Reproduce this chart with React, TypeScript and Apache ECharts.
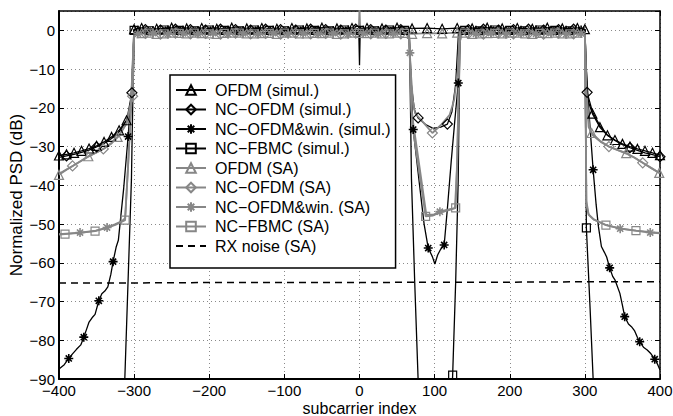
import React, { useEffect, useRef } from 'react';
import * as echarts from 'echarts';

// ---------- data (subcarrier index, normalized PSD in dB) ----------
const xTickValues = [-400, -300, -200, -100, 0, 100, 200, 300, 400];
const yTickValues = [-90, -80, -70, -60, -50, -40, -30, -20, -10, 0];

// in-band sample grids
const bandXA = [-290,-270,-250,-230,-210,-190,-170,-150,-130,-110,-90,-70,-50,-30,-10,10,30,50,70,90,110,130,150,170,190,210,230,250,270,290];
const bandXB1 = [-285,-265,-245,-225,-205,-185,-165,-145,-125,-105,-85,-65,-45,-25,-5,15,35,55];
const bandXB2 = [145,165,185,205,225,245,265,285];
const bandXC1 = [-295,-275,-255,-235,-215,-195,-175,-155,-135,-115,-95,-75,-55,-35,-15,5,25,45];
const bandXC2 = [155,175,195,215,235,255,275,295];
const bandXD1 = [-280,-260,-240,-220,-200,-180,-160,-140,-120,-100,-80,-60,-40,-20,0,20,40,60];
const bandXD2 = [140,160,180,200,220,240,260,280];

// OFDM (simul.)
const ofdmSimBand = [0.6,0.4,0.7,0.5,0.6,0.4,0.7,0.5,0.6,0.4,0.6,0.5,0.7,0.5,0.6,0.6,0.5,0.7,0.5,0.6,0.4,0.6,0.5,0.7,0.5,0.6,0.4,0.7,0.5,0.6];
const ofdmSimEdges: [number, number][] = [
  [-400,-32.3],[-390,-32.0],[-380,-31.6],[-370,-31.1],[-360,-30.5],[-350,-29.8],[-340,-28.8],[-330,-27.5],[-320,-25.8],[-310,-23.2],[-304,-20.5],[-301,-12],[-300,0.3],
  [-1,0.4],[0,-9],[1,0.4],
  [300,0.3],[301,-12],[304,-18],[310,-21.5],[320,-25],[330,-27.1],[340,-28.3],[350,-29.3],[360,-30],[370,-30.6],[380,-31.1],[390,-31.6],[400,-32.2],
];
const ofdmSimMarks = [-400,-390,-380,-370,-360,-350,-340,-330,-320,-310,-300,300,310,320,330,340,350,360,370,380,390,400];

// NC-OFDM (simul.)
const ncSimBand1 = [0.2,0.1,0.3,0.2,0.1,0.3,0.2,0.1,0.3,0.2,0.1,0.3,0.2,0.1,0.3,0.2,0.1,0.2];
const ncSimBand2 = [0.2,0.3,0.1,0.2,0.3,0.1,0.2,0.3];
const ncSimEdges: [number, number][] = [
  [-400,-32.8],[-390,-32.4],[-380,-32],[-370,-31.5],[-360,-30.9],[-350,-30.1],[-340,-29.2],[-330,-27.9],[-320,-26.2],[-310,-23.5],[-303,-16.1],[-300,0.2],
  [66,0.2],[69,-14],[73,-20.5],[78,-22.6],[88,-24.3],[98,-25.3],[108,-25],[117,-24.2],[123,-21],[128,-14],[132,0.2],
  [300,0.2],[303,-16],[310,-21],[320,-24.6],[330,-27],[340,-28.4],[350,-29.5],[360,-30.3],[370,-31],[380,-31.6],[390,-32.1],[400,-32.6],
];
const ncSimMarks = [-390,-350,-303,78,117,303,360,400];

// NC-OFDM&win. (simul.)
const winSimBand1 = [0,-0.1,0.1,0,-0.1,0.1,0,-0.1,0.1,0,-0.1,0.1,0,-0.1,0.1,0,-0.1,0];
const winSimBand2 = [0,0.1,-0.1,0,0.1,-0.1,0,0.1];
const winSimEdges: [number, number][] = [
  [-400,-87.4],[-393,-86.3],[-387,-84.7],[-382,-83.5],[-377,-82.4],[-371,-81.2],[-367,-79.2],[-363,-77],[-360,-75.3],[-356,-74.2],[-352,-73.3],[-347,-69.8],[-343,-68],[-339,-67.3],[-335,-66.2],[-331,-63],[-328,-59.7],[-324,-56],[-321,-54.2],[-314,-41],[-308,-27.4],[-304,-17],[-302,-9],[-300,0],
  [60,0],[66,-1],[68,-12],[71.5,-25.6],[80,-40],[86,-50],[91.5,-56.2],[97,-58.4],[100.3,-60.3],[104,-58],[108,-56.5],[112.7,-55.4],[117,-46],[122,-34],[127,-23],[131.5,-13.6],[134,-1],[140,0],
  [300,0],[302,-10],[305,-20],[311,-36],[315,-45],[318,-50.6],[322,-55.8],[326,-57.3],[329,-58.5],[333,-61.3],[337,-63.5],[340,-64.4],[346.6,-67.9],[350,-71],[353,-73.9],[358,-75.8],[362,-76.5],[366,-77.5],[370,-79.3],[373,-80.4],[378,-81.8],[383,-82.5],[388,-83.5],[393,-84.9],[397,-86.3],[400,-87.7],
];
const winSimMarks = [-387,-367,-347,-328,-308,71.5,91.5,112.7,131.5,311,333,353,373,393];

// NC-FBMC (simul.)
const fbmcSimBand1 = [-0.1,0.1,0,-0.1,0.1,0,-0.1,0.1,0,-0.1,0.1,0,-0.1,0.1,0,-0.1,0.1,0];
const fbmcSimBand2 = [0,-0.1,0.1,0,-0.1,0.1,0,-0.1];
const fbmcSimEdges: [number, number][] = [
  [-313,-93.5],[-308,-64.3],[-303.6,-38.6],[-301.5,-15],[-300,0],
  [66,0],[67.5,-15],[69.2,-38.6],[73.5,-65],[78,-90],[80,-96],[122.5,-96],[124,-89],[128,-65],[131.4,-38.6],[133,-12],[134,0],
  [300,0],[302,-51],[307,-72],[311,-90],[313,-96],
];
const fbmcSimMarks = [-300,124,302];

// OFDM (SA)
const ofdmSaBand = [-0.7,-0.9,-0.6,-0.8,-0.7,-0.9,-0.6,-0.8,-0.7,-0.9,-0.6,-0.8,-0.7,-0.9,-0.6,-0.7,-0.8,-0.6,-0.9,-0.7,-0.8,-0.6,-0.9,-0.7,-0.8,-0.6,-0.9,-0.7,-0.8,-0.6];
const ofdmSaEdges: [number, number][] = [
  [-400,-37.3],[-390,-36],[-380,-34.8],[-370,-33.6],[-361,-32.5],[-350,-31.5],[-340,-30.5],[-330,-29],[-322,-27.5],[-310,-24],[-303,-17.5],[-300,-0.5],
  [-1,-0.7],[0,6],[1,-0.7],
  [300,-0.5],[302,-16],[305,-25],[309,-26.5],[320,-28.5],[332,-30],[344,-30.9],[355,-31.7],[366,-32.8],[377,-34.2],[388,-35.5],[399,-36.8],
];
const ofdmSaMarks = [-400,-361,-322,309,355,399];

// NC-OFDM (SA)
const ncSaBand1 = [-0.8,-1,-0.7,-0.9,-0.8,-1,-0.7,-0.9,-0.8,-1,-0.7,-0.9,-0.8,-1,-0.7,-0.9,-0.8,-0.9];
const ncSaBand2 = [-0.8,-1,-0.7,-0.9,-0.8,-1,-0.7,-0.9];
const ncSaEdges: [number, number][] = [
  [-400,-37],[-382,-35],[-361,-32.6],[-341,-30.6],[-330,-29.2],[-320,-27.2],[-310,-24],[-302,-17],[-300,-0.5],
  [66,-0.7],[68,-10],[71,-18],[74,-21.4],[86,-24],[97,-26.5],[108,-24.5],[120,-21.8],[126,-18],[131,-10],[133,-0.7],
  [300,-0.5],[302,-16],[306,-25],[310,-27],[321,-28.8],[332,-30],[344,-30.9],[355,-31.8],[366,-32.9],[377,-34.2],[388,-35.5],[400,-36.9],
];
const ncSaMarks = [-382,-341,-302,97,332,377];

// NC-OFDM&win. (SA)
const winSaBand1 = [-0.9,-0.7,-1,-0.8,-0.9,-0.7,-1,-0.8,-0.9,-0.7,-1,-0.8,-0.9,-0.7,-1,-0.8,-0.9,-0.8];
const winSaBand2 = [-0.9,-0.7,-1,-0.8,-0.9,-0.7,-1,-0.8];
const winSaEdges: [number, number][] = [
  [-400,-52.6],[-386,-52.4],[-372,-52.2],[-351,-51.7],[-336,-50.9],[-325,-50],[-316,-49.2],[-312,-48.5],[-308,-35],[-304,-18],[-301,-4],[-300,-0.5],
  [62,-0.8],[66,-2],[67,-5.8],[69,-20.5],[79,-34],[89,-47.6],[98,-47.6],[107,-46.8],[117,-46.3],[127,-45.9],[130,-35],[132,-15],[133.5,-3],[136,-0.8],
  [300,-0.5],[301,-20],[302,-44],[305,-47.5],[312,-48.8],[320,-49.5],[329,-50.3],[347,-51.2],[367,-51.7],[387,-52.2],[400,-52.4],
];
const winSaMarks = [-372,-336,67,107,347,387];

// NC-FBMC (SA)
const fbmcSaBand1 = [-0.7,-0.9,-0.8,-0.7,-0.9,-0.8,-0.7,-0.9,-0.8,-0.7,-0.9,-0.8,-0.7,-0.9,-0.8,-0.7,-0.9,-0.8];
const fbmcSaBand2 = [-0.7,-0.9,-0.8,-0.7,-0.9,-0.8,-0.7,-0.9];
const fbmcSaEdges: [number, number][] = [
  [-400,-52.7],[-392,-52.6],[-372,-52.3],[-352,-51.8],[-336,-51],[-325,-50.2],[-312,-49],[-303.6,-18.8],[-301,-4],[-300,-0.6],
  [62,-0.8],[66,-2],[68,-12],[70,-24],[79,-36],[88,-48],[98,-47.8],[108,-47],[118,-46.5],[128,-45.8],[130,-33],[132,-14],[133.5,-3],[136,-0.8],
  [300,-0.5],[301,-22],[302,-45],[305,-47.6],[312,-48.9],[320,-49.6],[328,-50.3],[348,-51.2],[368,-51.7],[388,-52.1],[400,-52.3],
];
const fbmcSaMarks = [-392,-352,-312,88,128,328,368];

// RX noise (SA)
const noiseEdges: [number, number][] = [
  [-400,-65.2],[-300,-65.2],[-200,-65.1],[-100,-65.1],[0,-65.1],[100,-65],[200,-65],[300,-64.9],[400,-64.9],
];

// ---------- helpers ----------
const FONT = 'Arial, "Liberation Sans", Helvetica, sans-serif';
const BLACK = '#000000';
const GRAY = '#878787';
const ASTERISK = 'path://M5 0L5 10M0 5L10 5M1.6 1.6L8.4 8.4M1.6 8.4L8.4 1.6';
const CLEAR = 'rgba(255,255,255,0)';

type Band = [number[], number[]];

function build(bands: Band[], edges: [number, number][], marks: number[]) {
  const pts: { x: number; y: number; m: boolean }[] = [];
  bands.forEach(([xs, ys]) => xs.forEach((x, i) => pts.push({ x, y: ys[i], m: true })));
  edges.forEach(([x, y]) => pts.push({ x, y, m: marks.includes(x) }));
  pts.sort((a, b) => a.x - b.x);
  return pts.map((p) => (p.m ? { value: [p.x, p.y] } : { value: [p.x, p.y], symbol: 'none' }));
}

const minus = (v: number) => (v % 10 === 0 ? String(v).replace('-', '\u2212') : '');

function mkSeries(name: string, data: any[], color: string, symbol: string, size: number, width: number, dashed = false) {
  const hasSym = symbol !== 'none';
  const isStar = symbol === ASTERISK;
  return {
    type: 'line',
    name,
    data,
    symbol,
    symbolSize: size,
    showSymbol: hasSym,
    showAllSymbol: true,
    clip: true,
    lineStyle: { color, width, type: dashed ? [7, 5] : 'solid' },
    itemStyle: hasSym
      ? { color: CLEAR, borderColor: color, borderWidth: isStar ? 1.6 : 1.2 }
      : { color: CLEAR, borderColor: CLEAR, borderWidth: 0, opacity: 0 },
    emphasis: { disabled: true },
  };
}

export default function App() {
  const ref = useRef<HTMLDivElement>(null);
  useEffect(() => {
    if (!ref.current) return;
    const chart = echarts.init(ref.current, undefined, { renderer: 'svg' });
    const series = [
      mkSeries('OFDM (simul.)', build([[bandXA, ofdmSimBand]], ofdmSimEdges, ofdmSimMarks), BLACK, 'triangle', 9, 1.3),
      mkSeries('NC\u2212OFDM (simul.)', build([[bandXB1, ncSimBand1], [bandXB2, ncSimBand2]], ncSimEdges, ncSimMarks), BLACK, 'diamond', 10, 1.3),
      mkSeries('NC\u2212OFDM&win. (simul.)', build([[bandXC1, winSimBand1], [bandXC2, winSimBand2]], winSimEdges, winSimMarks), BLACK, ASTERISK, 9, 1.3),
      mkSeries('NC\u2212FBMC (simul.)', build([[bandXD1, fbmcSimBand1], [bandXD2, fbmcSimBand2]], fbmcSimEdges, fbmcSimMarks), BLACK, 'rect', 8, 1.3),
      mkSeries('OFDM (SA)', build([[bandXA, ofdmSaBand]], ofdmSaEdges, ofdmSaMarks), GRAY, 'triangle', 9, 1.8),
      mkSeries('NC\u2212OFDM (SA)', build([[bandXB1, ncSaBand1], [bandXB2, ncSaBand2]], ncSaEdges, ncSaMarks), GRAY, 'diamond', 10, 1.8),
      mkSeries('NC\u2212OFDM&win. (SA)', build([[bandXC1, winSaBand1], [bandXC2, winSaBand2]], winSaEdges, winSaMarks), GRAY, ASTERISK, 9, 1.8),
      mkSeries('NC\u2212FBMC (SA)', build([[bandXD1, fbmcSaBand1], [bandXD2, fbmcSaBand2]], fbmcSaEdges, fbmcSaMarks), GRAY, 'rect', 8, 1.8),
      mkSeries('RX noise (SA)', build([], noiseEdges, []), BLACK, 'none', 0, 1.5, true),
    ];
    const tickStyle = { show: true, inside: true, length: 5, lineStyle: { color: BLACK, width: 1 } };
    const gridLine = { show: true, lineStyle: { color: '#8a8a8a', width: 1, type: [1, 3] } };
    const option = {
      animation: false,
      backgroundColor: '#ffffff',
      textStyle: { fontFamily: FONT },
      grid: { left: 59, right: 13, top: 11, bottom: 37, containLabel: false, outerBoundsMode: 'none' },
      legend: {
        orient: 'vertical',
        left: 170,
        top: 75,
        itemWidth: 30,
        itemHeight: 12,
        itemGap: 3.5,
        padding: [7, 5, 14, 5],
        backgroundColor: '#ffffff',
        borderColor: BLACK,
        borderWidth: 1.5,
        borderRadius: 0,
        selectedMode: false,
        textStyle: { fontFamily: FONT, fontSize: 16, color: BLACK, padding: [0, 0, 0, 4] },
        data: series.map((s) => s.name),
      },
      xAxis: [
        {
          type: 'value', min: xTickValues[0], max: xTickValues[xTickValues.length - 1], interval: 100,
          name: 'subcarrier index', nameLocation: 'middle', nameGap: 21, nameMoveOverlap: false,
          nameTextStyle: { fontFamily: FONT, fontSize: 16, color: BLACK },
          axisLine: { show: true, onZero: false, lineStyle: { color: BLACK, width: 2 } },
          axisTick: tickStyle,
          axisLabel: { fontFamily: FONT, fontSize: 15, color: BLACK, margin: 4, formatter: minus },
          splitLine: gridLine,
        },
        {
          type: 'value', position: 'top', min: xTickValues[0], max: xTickValues[xTickValues.length - 1], interval: 100,
          axisLine: { show: true, onZero: false, lineStyle: { color: BLACK, width: 1.5 } },
          axisTick: tickStyle, axisLabel: { show: false }, splitLine: { show: false },
        },
      ],
      yAxis: [
        {
          type: 'value', min: yTickValues[0], max: 5, interval: 10,
          name: 'Normalized PSD (dB)', nameLocation: 'middle', nameGap: 34, nameMoveOverlap: false,
          nameTextStyle: { fontFamily: FONT, fontSize: 17, color: BLACK },
          axisLine: { show: true, onZero: false, lineStyle: { color: BLACK, width: 2 } },
          axisTick: tickStyle,
          axisLabel: { fontFamily: FONT, fontSize: 15, color: BLACK, margin: 4, formatter: minus, showMaxLabel: false },
          splitLine: gridLine,
        },
        {
          type: 'value', position: 'right', min: yTickValues[0], max: 5, interval: 10,
          axisLine: { show: true, onZero: false, lineStyle: { color: BLACK, width: 1.5 } },
          axisTick: tickStyle, axisLabel: { show: false }, splitLine: { show: false },
        },
      ],
      series,
    };
    chart.setOption(option as any);
    return () => chart.dispose();
  }, []);
  return <div ref={ref} style={{ position: 'fixed', left: 0, top: 0, width: 673, height: 416, background: '#fff' }} />;
}
